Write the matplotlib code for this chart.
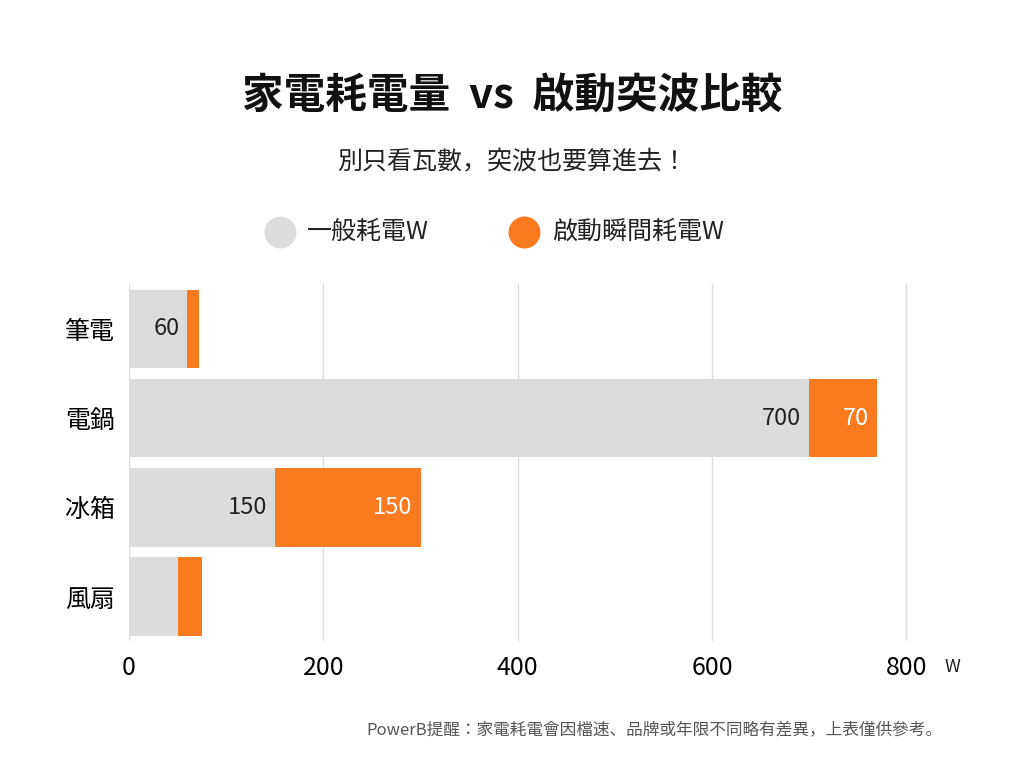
import matplotlib
matplotlib.use("Agg")
import matplotlib.pyplot as plt
from matplotlib.lines import Line2D

plt.rcParams["font.family"] = ["Noto Sans CJK TC", "Noto Sans CJK JP", "Noto Sans CJK SC", "Noto Sans CJK KR", "DejaVu Sans"]

categories = ["筆電", "電鍋", "冰箱", "風扇"]
normal_w = [60, 700, 150, 50]
surge_w = [12, 70, 150, 25]
normal_labels = ["60", "700", "150", ""]
surge_labels = ["", "70", "150", ""]
xticks = [0, 200, 400, 600, 800]

GRAY = "#dcdcdc"
ORANGE = "#f97a1f"

fig = plt.figure(figsize=(10.24, 7.68), dpi=100)
ax = fig.add_axes([0.126, 0.165, 0.761, 0.465])
y = list(range(len(categories)))
ax.barh(y, normal_w, height=0.88, color=GRAY, zorder=2)
ax.barh(y, surge_w, left=normal_w, height=0.88, color=ORANGE, zorder=2)
for i in y:
    if normal_labels[i]:
        ax.text(normal_w[i] - 8, i, normal_labels[i], ha="right", va="center", fontsize=17, color="#222222", zorder=3)
    if surge_labels[i]:
        ax.text(normal_w[i] + surge_w[i] - 8, i, surge_labels[i], ha="right", va="center", fontsize=17, color="white", zorder=3)
ax.set_yticks(y)
ax.set_yticklabels(categories, fontsize=18)
ax.set_ylim(3.5, -0.5)
ax.set_xlim(0, 802)
ax.set_xticks(xticks)
ax.set_xticklabels([str(t) for t in xticks], fontsize=18)
ax.grid(axis="x", color="#dddddd", lw=1, zorder=0)
for s in ax.spines.values():
    s.set_visible(False)
ax.tick_params(length=0, pad=10)
fig.text(0.93, 0.132, "W", fontsize=13, ha="center", va="center", color="#222222")

fig.text(0.5, 0.875, "家電耗電量  vs  啟動突波比較", fontsize=30, fontweight="bold", ha="center", va="center", color="#111111")
fig.text(0.5, 0.79, "別只看瓦數，突波也要算進去！", fontsize=18, ha="center", va="center", color="#222222")
for cx, col, lab in [(0.273, GRAY, "一般耗電W"), (0.512, ORANGE, "啟動瞬間耗電W")]:
    fig.add_artist(Line2D([cx], [0.698], marker="o", markersize=22, color=col, transform=fig.transFigure))
    fig.text(cx + 0.027, 0.698, lab, fontsize=18, ha="left", va="center", color="#222222")
fig.text(0.92, 0.05, "PowerB提醒：家電耗電會因檔速、品牌或年限不同略有差異，上表僅供參考。", fontsize=12, ha="right", va="center", color="#555555")
fig.savefig("out.png", dpi=100, facecolor="white")
